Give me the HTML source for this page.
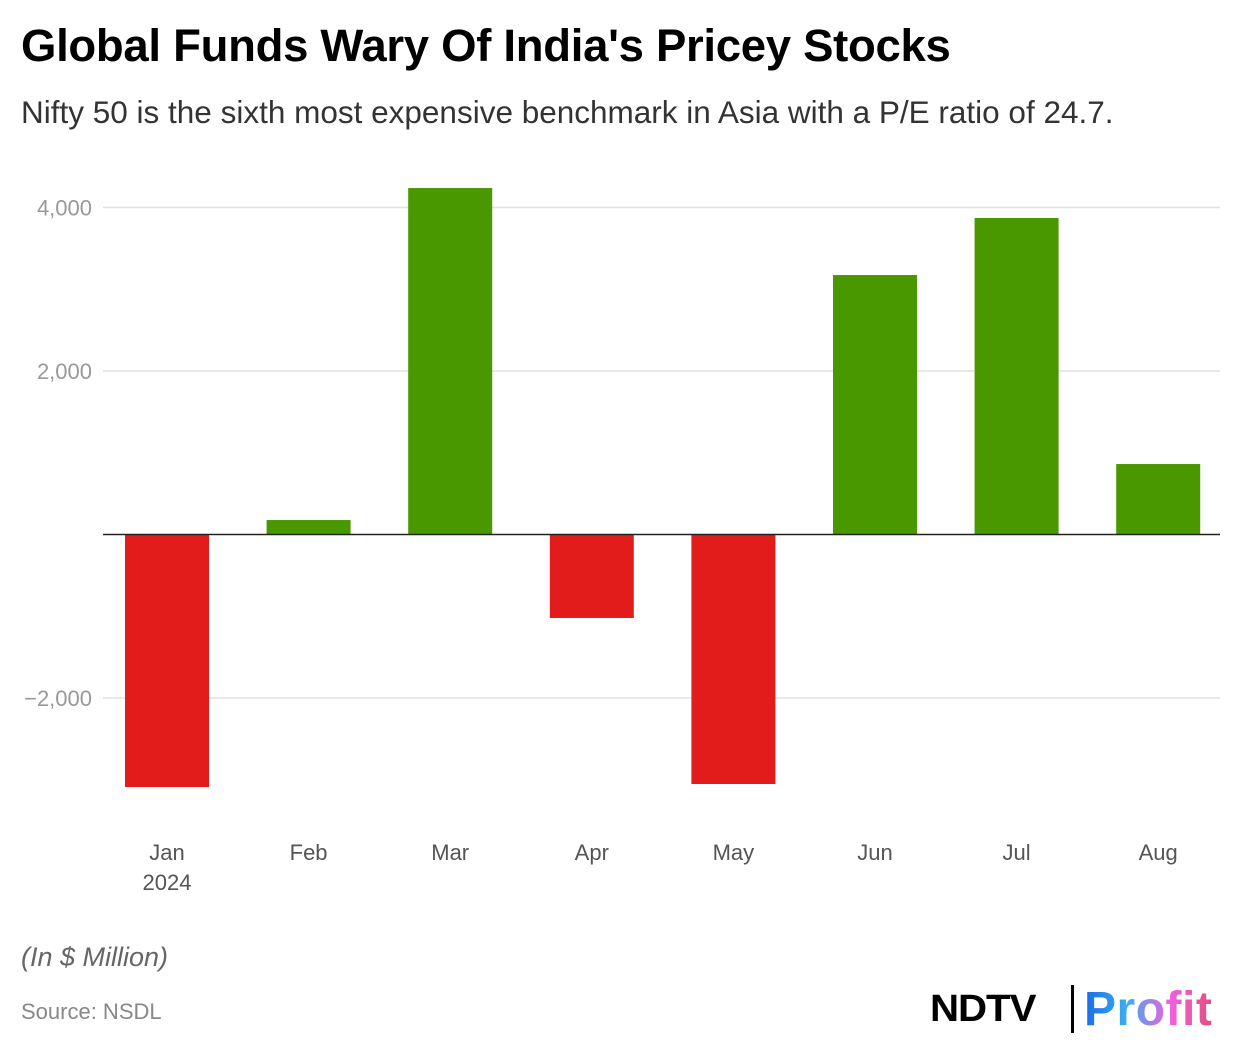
<!DOCTYPE html>
<html><head><meta charset="utf-8"><style>
body{margin:0;width:1240px;height:1060px;background:#fff;font-family:"Liberation Sans",sans-serif;position:relative;overflow:hidden}
.t{position:absolute;left:21px;top:20px;font-size:45.5px;font-weight:bold;color:#000;letter-spacing:-0.3px}
.s{position:absolute;left:21px;top:94px;font-size:31.5px;color:#333}
.u{position:absolute;left:21px;top:942px;font-size:27px;font-style:italic;color:#666}
.src{position:absolute;left:21px;top:999px;font-size:22px;color:#888}
.logo{position:absolute;left:930px;top:985px;height:48px;display:flex;align-items:center}
.ndtv{font-size:38px;font-weight:900;color:#000;letter-spacing:-1px;transform:scaleX(1.06);transform-origin:left;display:inline-block;width:131px}
.bar{width:3px;height:48px;background:#000;margin:0 10px 0 10px}
.pf{font-size:48px;font-weight:bold;letter-spacing:0.5px;background:linear-gradient(90deg,#1a6be8,#3aaef0,#f060e0,#e05080);-webkit-background-clip:text;background-clip:text;color:transparent}
</style></head><body>
<div class="t">Global Funds Wary Of India's Pricey Stocks</div>
<div class="s">Nifty 50 is the sixth most expensive benchmark in Asia with a P/E ratio of 24.7.</div>
<svg id="c" width="1240" height="1060" style="position:absolute;left:0;top:0"></svg>
<div class="u">(In $ Million)</div>
<div class="src">Source: NSDL</div>
<div class="logo"><span class="ndtv">NDTV</span><span class="bar"></span><span class="pf">Profit</span></div>
<script>
const categories=["Jan","Feb","Mar","Apr","May","Jun","Jul","Aug"];
const values=[-3089,177,4238,-1021,-3052,3174,3872,862];
const ticks=[-2000,2000,4000];
const tickLabels=["\u22122,000","2,000","4,000"];
const svg=document.getElementById('c');
const NS='http://www.w3.org/2000/svg';
function y(v){return 534.5-v*0.08175;}
function xc(i){return 167+i*141.6;}
function mk(t,a){const e=document.createElementNS(NS,t);for(const k in a)e.setAttribute(k,a[k]);svg.appendChild(e);return e;}
ticks.forEach((t,i)=>{
 const g=mk('line',{x1:103,x2:1220,y1:y(t),y2:y(t),stroke:'#e0e0e0','stroke-width':1.5});
 
 
 const l=mk('text',{x:92,y:y(t)+8,'text-anchor':'end','font-size':22,fill:'#999','font-family':'Liberation Sans'});
 l.textContent=tickLabels[i];
 
 
});
values.forEach((v,i)=>{
 const r=mk('rect',{x:xc(i)-42,width:84,y:Math.min(y(v),y(0)),height:Math.abs(y(v)-y(0)),fill:v<0?'#e21b1b':'#4a9800'});
 
 
 const l=mk('text',{x:xc(i),y:860,'text-anchor':'middle','font-size':22,fill:'#555','font-family':'Liberation Sans'});
 l.textContent=categories[i];
 
 
});
const yr=mk('text',{x:xc(0),y:890,'text-anchor':'middle','font-size':22,fill:'#555','font-family':'Liberation Sans'});
yr.textContent='2024';


const z=mk('line',{x1:103,x2:1220,y1:y(0),y2:y(0),stroke:'#222','stroke-width':1.5});


</script>
</body></html>
